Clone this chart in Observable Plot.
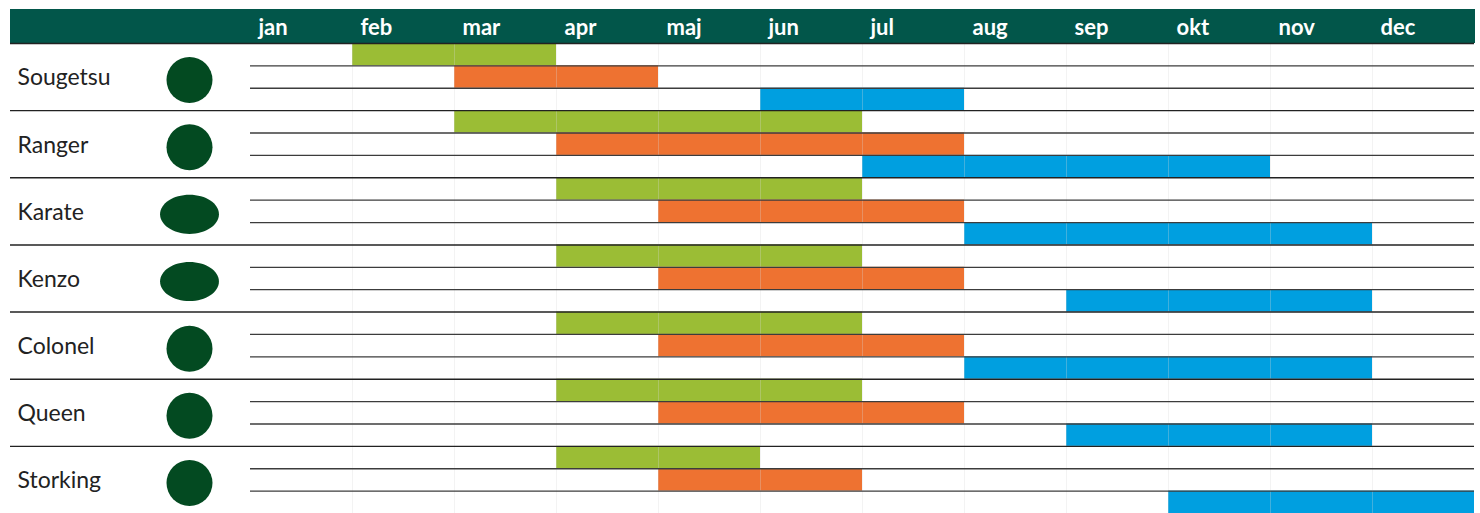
<!DOCTYPE html>
<html>
<head>
<meta charset="utf-8">
<script src="https://cdn.jsdelivr.net/npm/d3@7"></script>
<script src="https://cdn.jsdelivr.net/npm/@observablehq/plot@0.6"></script>
<style>
  html, body { margin: 0; padding: 0; background: #fff; }
  #chart svg { display: block; }
</style>
</head>
<body>
<div id="chart"></div>
<script>
// ---- data ----
const months = ["jan", "feb", "mar", "apr", "maj", "jun", "jul", "aug", "sep", "okt", "nov", "dec"];
const varieties = ["Sougetsu", "Ranger", "Karate", "Kenzo", "Colonel", "Queen", "Storking"];
const shapes = ["round", "round", "flat", "flat", "round", "round", "round"];
const stages = ["green", "orange", "blue"];
// start / end month (1 = jan) per variety
const greenStart  = [2, 3, 4, 4, 4, 4, 4];
const greenEnd    = [3, 6, 6, 6, 6, 6, 5];
const orangeStart = [3, 4, 5, 5, 5, 5, 5];
const orangeEnd   = [4, 7, 7, 7, 7, 7, 6];
const blueStart   = [6, 7, 8, 9, 8, 9, 10];
const blueEnd     = [7, 10, 11, 11, 11, 11, 12];

// ---- styles ----
const stageColors = {green: "#9bbd35", orange: "#ee7231", blue: "#009fe0"};
const headerColor = "#02564a";
const onionColor = "#034a21";
const fontFamily = "'Lato', 'Open Sans', sans-serif";

// ---- build tables ----
const starts = {green: greenStart, orange: orangeStart, blue: blueStart};
const ends = {green: greenEnd, orange: orangeEnd, blue: blueEnd};
const bars = [];
varieties.forEach((v, i) => {
  stages.forEach((s, j) => {
    bars.push({variety: v, stage: s, row: i * 3 + j, from: starts[s][i] - 1, to: ends[s][i]});
  });
});
const groups = varieties.map((v, i) => ({variety: v, shape: shapes[i], center: i * 3 + 1.5}));
const nRows = varieties.length * 3;
const subLines = d3.range(1, nRows).filter(r => r % 3 !== 0);
const groupLines = d3.range(0, nRows, 3);

// custom ellipse symbol for flat onions
const ellipse = {
  draw(ctx, size) {
    const r = Math.sqrt(size / Math.PI);
    const rx = r * 1.28, ry = r * 0.85, k = 0.5523;
    ctx.moveTo(rx, 0);
    ctx.bezierCurveTo(rx, ry * k, rx * k, ry, 0, ry);
    ctx.bezierCurveTo(-rx * k, ry, -rx, ry * k, -rx, 0);
    ctx.bezierCurveTo(-rx, -ry * k, -rx * k, -ry, 0, -ry);
    ctx.bezierCurveTo(rx * k, -ry, rx, -ry * k, rx, 0);
    ctx.closePath();
  }
};

// header band drawn from the frame dimensions
function header(index, scales, values, dims) {
  return d3.create("svg:rect")
    .attr("x", dims.marginLeft)
    .attr("y", 9)
    .attr("width", dims.width - dims.marginLeft - dims.marginRight + 1)
    .attr("height", dims.marginTop - 9)
    .attr("fill", headerColor)
    .node();
}

const chart = Plot.plot({
  width: 1480,
  height: 513,
  marginLeft: 10,
  marginRight: 6,
  marginTop: 43,
  marginBottom: 0,
  style: {fontFamily, background: "#fff", overflow: "visible"},
  x: {domain: [-240 / 102, 12], axis: null},
  y: {domain: [0, nRows], reverse: true, axis: null},
  marks: [
    header,
    Plot.rect(bars, {x1: "from", x2: "to", y1: "row", y2: d => d.row + 1, fill: d => stageColors[d.stage]}),
    Plot.ruleX(d3.range(1, 12), {y1: 0, y2: nRows, stroke: "#d8d8d8", strokeOpacity: 0.3, strokeWidth: 1}),
    Plot.ruleY(subLines, {x1: 0, x2: 12, stroke: "#3c3c3c", strokeWidth: 1.3}),
    Plot.ruleY(groupLines, {stroke: "#222", strokeWidth: 1.4}),
    Plot.axisX(d3.range(12), {
      anchor: "top", tickSize: 0, tickPadding: 9, textAnchor: "start", dx: 8,
      tickFormat: i => months[i], fill: "white", fontSize: 22, fontWeight: "bold", label: null
    }),
    Plot.text(groups, {
      y: "center", text: "variety", frameAnchor: "left", textAnchor: "start", dx: 7, dy: 1,
      fontSize: 23, fill: "#222"
    }),
    Plot.dot(groups.filter(d => d.shape === "round"), {
      y: "center", frameAnchor: "left", dx: 179, dy: 3, r: 23, fill: onionColor, stroke: "none", symbol: "circle"
    }),
    Plot.dot(groups.filter(d => d.shape === "flat"), {
      y: "center", frameAnchor: "left", dx: 179, dy: 3, r: 23, fill: onionColor, stroke: "none", symbol: ellipse
    })
  ]
});
document.getElementById("chart").append(chart);
</script>
</body>
</html>
